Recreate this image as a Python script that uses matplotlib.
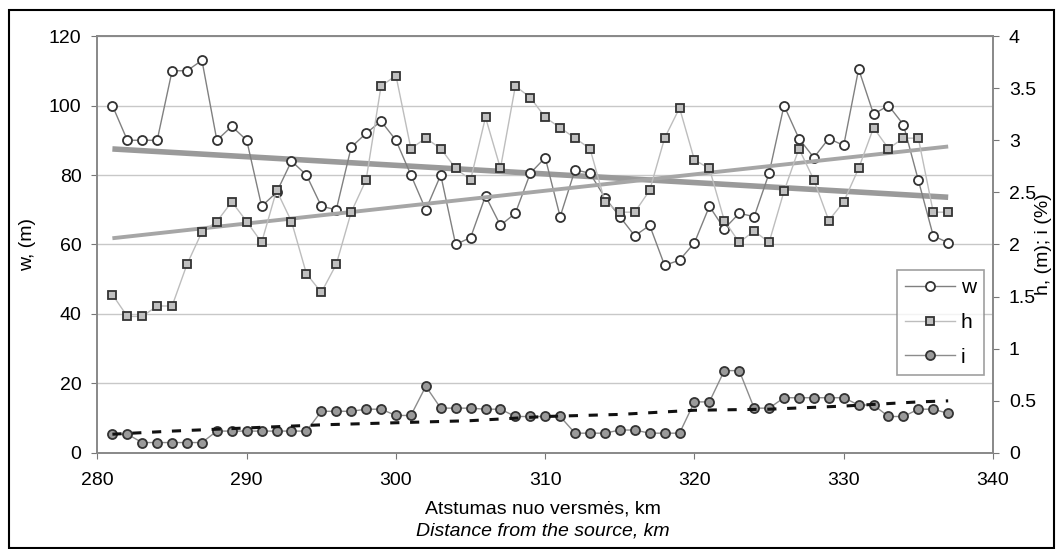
import numpy as np
import matplotlib.pyplot as plt

plt.rcParams['font.family'] = ['Liberation Sans', 'DejaVu Sans']

# distance from the source, km
km = list(range(281, 338))

# river width, m (left axis)
w = [100, 90, 90, 90, 110, 110, 113, 90, 94, 90,
     71, 75, 84, 80, 71, 70, 88, 92, 95.5, 90,
     80, 70, 80, 60, 62, 74, 65.5, 69, 80.5, 85,
     68, 81.5, 80.5, 73.5, 68, 62.5, 65.5, 54, 55.5, 60.5,
     71, 64.5, 69, 68, 80.5, 100, 90.5, 85, 90.5, 88.5,
     110.5, 97.5, 100, 94.5, 78.5, 62.5, 60.5]

# depth h, m (right axis)
h = [1.52, 1.31, 1.31, 1.41, 1.41, 1.81, 2.12, 2.22, 2.41, 2.22,
     2.02, 2.52, 2.22, 1.72, 1.54, 1.81, 2.31, 2.62, 3.52, 3.62,
     2.92, 3.02, 2.92, 2.73, 2.62, 3.22, 2.73, 3.52, 3.41, 3.22,
     3.12, 3.02, 2.92, 2.41, 2.31, 2.31, 2.52, 3.02, 3.31, 2.81,
     2.73, 2.23, 2.02, 2.13, 2.02, 2.51, 2.92, 2.62, 2.23, 2.41,
     2.73, 3.12, 2.92, 3.02, 3.02, 2.31, 2.31]

# slope i, % (right axis)
i = [0.18, 0.18, 0.10, 0.10, 0.10, 0.10, 0.10, 0.21, 0.21, 0.21,
     0.21, 0.21, 0.21, 0.21, 0.40, 0.40, 0.40, 0.42, 0.42, 0.36,
     0.36, 0.64, 0.43, 0.43, 0.43, 0.42, 0.42, 0.35, 0.35, 0.35,
     0.35, 0.19, 0.19, 0.19, 0.22, 0.22, 0.19, 0.19, 0.19, 0.49,
     0.49, 0.79, 0.79, 0.43, 0.43, 0.53, 0.53, 0.53, 0.53, 0.53,
     0.46, 0.46, 0.35, 0.35, 0.42, 0.42, 0.38]

# trend lines
w_trend_km = [281, 337]
w_trend = [87.5, 73.6]
h_trend_km = [281, 337]
h_trend = [2.06, 2.94]
i_trend_km = [281, 285, 290, 295, 300, 305, 310, 315, 320, 325, 330, 335, 337]
i_trend = [0.18, 0.21, 0.24, 0.27, 0.29, 0.31, 0.35, 0.37, 0.41, 0.42, 0.45, 0.49, 0.50]

fig = plt.figure(figsize=(10.56, 5.49), dpi=100)
ax = fig.add_axes([0.0923, 0.1749, 0.848, 0.7595])
ax2 = ax.twinx()

edge = '#333333'
ln_w, = ax.plot(km, w, color='#808080', lw=1.0, marker='o', ms=6.5, mfc='white',
                mec=edge, mew=1.3, zorder=3, label='w')
ax.plot(w_trend_km, w_trend, color='#9a9a9a', lw=4, solid_capstyle='butt', zorder=2)

ln_h, = ax2.plot(km, h, color='#bdbdbd', lw=1.0, marker='s', ms=6, mfc='#c0c0c0',
                 mec=edge, mew=1.3, zorder=3, label='h')
ax2.plot(h_trend_km, h_trend, color='#a6a6a6', lw=2.8, solid_capstyle='butt', zorder=2)
ln_i, = ax2.plot(km, i, color='#8c8c8c', lw=1.0, marker='o', ms=6.5, mfc='#9a9a9a',
                 mec=edge, mew=1.3, zorder=3, label='i')
ax2.plot(i_trend_km, i_trend, color='#111111', lw=2.2, ls=(0, (3, 3.5)), zorder=4)

ax.set_xlim(280, 340)
ax.set_ylim(0, 120)
ax2.set_ylim(0, 4)
ax.set_xticks(range(280, 341, 10))
ax.set_yticks(range(0, 121, 20))
ax2.set_yticks(np.arange(0, 4.01, 0.5))
ax2.set_yticklabels(['0', '0.5', '1', '1.5', '2', '2.5', '3', '3.5', '4'])
ax.grid(axis='y', color='#c8c8c8', lw=1)
ax.set_axisbelow(True)

for a in (ax, ax2):
    a.tick_params(labelsize=14, direction='out', length=4, color='#777777', pad=7.5)
    for s in a.spines.values():
        s.set_color('#888888')
        s.set_linewidth(1.2)
ax.tick_params(axis='x', pad=10)

mid_y = (0.1749 + 0.9344) / 2
fig.text(28 / 1056, mid_y, 'w, (m)', fontsize=14,
         rotation=90, ha='center', va='center')
fig.text(1044 / 1056, mid_y, 'h, (m); i (%)', fontsize=14,
         rotation=90, ha='center', va='center')
fig.text(0.514, 1 - 509 / 549, 'Atstumas nuo versmės, km', fontsize=14,
         ha='center', va='center')
fig.text(0.514, 1 - 531 / 549, 'Distance from the source, km', fontsize=14,
         style='italic', ha='center', va='center')

leg = ax2.legend([ln_w, ln_h, ln_i], ['w', 'h', 'i'], loc='upper left',
                 bbox_to_anchor=(0.893, 0.439), fontsize=15, frameon=True,
                 fancybox=False, edgecolor='#888888', handlelength=2.4,
                 borderpad=0.4, labelspacing=0.75, handletextpad=0.25,
                 borderaxespad=0)
leg.get_frame().set_linewidth(1.2)

fig.patches.append(plt.Rectangle((9 / 1056, 1 / 549), 1045 / 1056, 538 / 549,
                                 transform=fig.transFigure, fill=False,
                                 edgecolor='black', lw=1.5))

fig.savefig('out.png', dpi=100)
